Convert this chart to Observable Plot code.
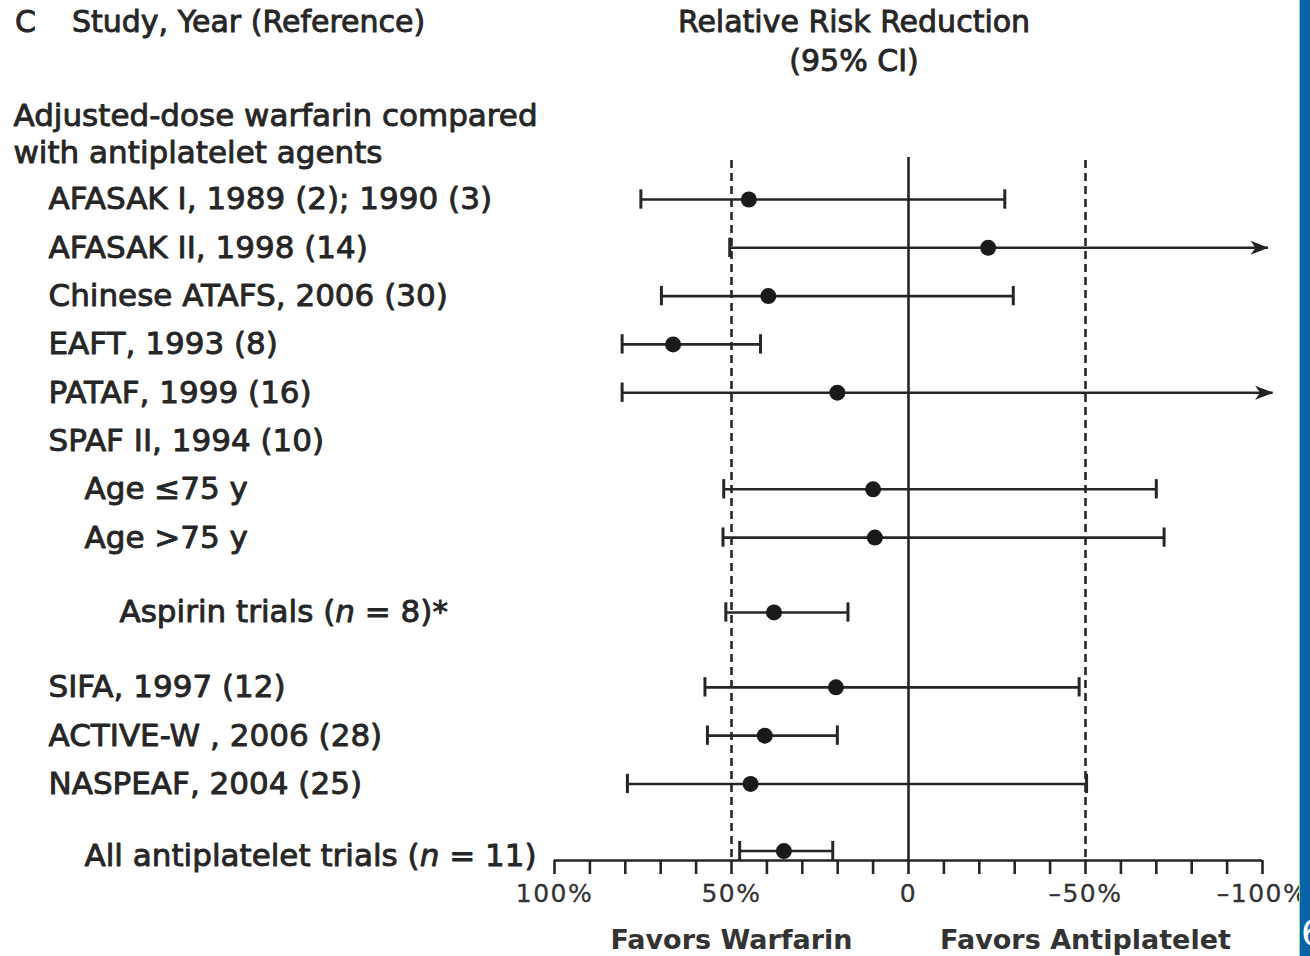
<!DOCTYPE html>
<html>
<head>
<meta charset="utf-8">
<script src="https://cdn.jsdelivr.net/npm/d3@7"></script>
<script src="https://cdn.jsdelivr.net/npm/@observablehq/plot@0.6"></script>
<style>
  html, body { margin: 0; padding: 0; background: #fff; }
  #page { position: relative; width: 1310px; height: 956px; overflow: hidden; background: #fff;
          font-family: "DejaVu Sans", sans-serif; color: #262626; }
  #header { position: relative; height: 90px; }
  #header div { position: absolute; font-size: 30px; line-height: 36px; white-space: nowrap; -webkit-text-stroke: 0.9px #262626; }
  #chart svg { display: block; }
  #chart g[font-size="25"] text { letter-spacing: 1.5px; }
  #stripe-g { position: absolute; left: 1299px; top: 0; width: 1px; height: 956px; background: #8fe08f; z-index: 5; }
  #stripe-b { position: absolute; left: 1300px; top: 0; width: 10px; height: 956px; background: #0a63a6; z-index: 5; overflow: hidden; }
  #stripe-b span { position: absolute; left: 1px; top: 912px; color: #fff; font-size: 36px; font-family: "DejaVu Sans", sans-serif; }
</style>
</head>
<body>
<div id="page">
  <div id="header">
    <div style="left:15px; top:4px;">C</div>
    <div style="left:72px; top:4px;">Study, Year (Reference)</div>
    <div style="left:654px; top:4px; width:400px; text-align:center;">Relative Risk Reduction</div>
    <div style="left:654px; top:43px; width:400px; text-align:center;">(95% CI)</div>
  </div>
  <div id="chart"></div>
  <div id="stripe-g"></div>
  <div id="stripe-b"><span>6</span></div>
</div>
<script>
// ---------------- data ----------------
const groupLabel = "Adjusted-dose warfarin compared\nwith antiplatelet agents";
const labels = [
  "AFASAK I, 1989 (2); 1990 (3)",
  "AFASAK II, 1998 (14)",
  "Chinese ATAFS, 2006 (30)",
  "EAFT, 1993 (8)",
  "PATAF, 1999 (16)",
  "SPAF II, 1994 (10)",
  "Age \u226475 y",
  "Age >75 y",
  "Aspirin trials (n = 8)*",
  "SIFA, 1997 (12)",
  "ACTIVE-W , 2006 (28)",
  "NASPEAF, 2004 (25)",
  "All antiplatelet trials (n = 11)"
];
const kinds = ["study","study","study","study","study","study","subgroup","subgroup","pooled","study","study","study","overall"];
// relative risk reduction (%) and 95% CI bounds
const rrr            = [45.1, -22.5, 39.6, 66.5, 20.1, null, 10.0,  9.5, 38.0,  20.5, 40.6,  44.6, 35.2];
const ciWarfarinEnd  = [75.6,  50.5, 69.8, 80.9, 80.9, null, 52.2, 52.4, 51.6,  57.5, 56.8,  79.4, 47.7];
const ciAntiplatEnd  = [-27.2, -101.7, -29.6, 41.8, -103.0, null, -70.0, -72.2, 17.1, -48.2, 20.1, -50.3, 21.4];
const beyondAxis     = [false, true, false, false, true, false, false, false, false, false, false, false, false];
const xTicks = d3.range(-100, 101, 10);
const labeledTicks = [100, 50, 0, -50, -100];
const labeledTickText = ["100%", "50%", "0", "\u201350%", "\u2013100%"];
const favorsText = ["Favors Warfarin", "Favors Antiplatelet"];
const favorsAt = [50, -50];
const dashedRefs = [50, -50];
const nullRef = [0];

// ---------------- layout (code, not data) ----------------
const W = 1310, H = 866, mLeft = 554, mRight = 48, axisPx = 770;
const rowH = 48.3, row0 = 109;
const yTop = -row0 / rowH, yBottom = (axisPx - row0) / rowH;
const indent = {group: 13, study: 48, subgroup: 84, pooled: 119, overall: 84};
const labelDy = {group: 0, study: 0, subgroup: 0, pooled: 0, overall: 5};
const ink = "#262626";
const textInk = "#262626";
const lw = 2.6;

const pos = [];
kinds.forEach((k, i) => {
  if (i === 0) { pos.push(0); return; }
  let step = 1;
  if (k === "pooled" || kinds[i - 1] === "pooled") step = 1.55;
  if (k === "overall") step = 1.39;
  pos.push(pos[i - 1] + step);
});

const rows = labels.map((label, i) => ({
  label, kind: kinds[i], pos: pos[i], rrr: rrr[i],
  lo: ciWarfarinEnd[i], hi: ciAntiplatEnd[i], open: beyondAxis[i]
}));
const withData = rows.filter(d => d.rrr != null);
const caps = [];
withData.forEach(d => {
  caps.push({v: d.lo, pos: d.pos});
  if (!d.open) caps.push({v: d.hi, pos: d.pos});
});
const capHalf = 0.2;
const lineTop = -0.87, dashTop = -0.81;

const arrowHead = {
  draw(ctx) {
    ctx.moveTo(0, 0);
    ctx.lineTo(-18, -7);
    ctx.lineTo(-13, 0);
    ctx.lineTo(-18, 7);
    ctx.closePath();
  }
};

const labelStyle = {fontSize: 31, fill: textInk, stroke: textInk, strokeWidth: 0.9, fontFamily: "DejaVu Sans"};
const labelMarks = Object.keys(indent).filter(k => k !== "group").map(k =>
  Plot.text(rows.filter(d => d.kind === k), {
    y: "pos", text: "label", frameAnchor: "left", textAnchor: "start",
    dx: indent[k] - mLeft, dy: labelDy[k], ...labelStyle
  })
);

const chart = Plot.plot({
  width: W, height: H,
  marginLeft: mLeft, marginRight: mRight, marginTop: 0, marginBottom: H - axisPx,
  x: {domain: [100, -100], axis: null},
  y: {domain: [yTop, yBottom], range: [0, axisPx], axis: null},
  style: {fontFamily: "DejaVu Sans", color: ink, background: "transparent", overflow: "visible"},
  marks: [
    // reference lines
    Plot.ruleX(nullRef, {y1: lineTop, y2: yBottom, stroke: ink, strokeWidth: lw}),
    Plot.ruleX(dashedRefs, {y1: dashTop, y2: yBottom, stroke: ink, strokeWidth: lw, strokeDasharray: "8,5"}),
    // axis
    Plot.ruleY([yBottom], {stroke: ink, strokeWidth: lw}),
    Plot.ruleX(xTicks, {y1: yBottom, y2: yBottom + 14 / rowH, stroke: ink, strokeWidth: lw}),
    Plot.text(labeledTicks, {x: d => d, y: yBottom, dy: 33, text: (d, i) => labeledTickText[i],
      fontSize: 25, fill: "#333", stroke: "#333", strokeWidth: 0.3, fontFamily: "DejaVu Sans"}),
    Plot.text(favorsAt, {x: d => d, y: yBottom, dy: 80, text: (d, i) => favorsText[i],
      fontSize: 27, fontWeight: "bold", fill: "#333", fontFamily: "DejaVu Sans"}),
    // confidence intervals
    Plot.ruleY(withData, {y: "pos", x1: "lo", x2: "hi", stroke: ink, strokeWidth: lw}),
    Plot.ruleX(caps, {x: "v", y1: d => d.pos - capHalf, y2: d => d.pos + capHalf, stroke: ink, strokeWidth: lw + 0.4}),
    Plot.dot(withData.filter(d => d.open), {x: "hi", y: "pos", symbol: arrowHead, fill: "#222", stroke: "none"}),
    Plot.dot(withData, {x: "rrr", y: "pos", r: 8, fill: "#1a1a1a", stroke: "none"}),
    // labels
    Plot.text([{label: groupLabel, pos: -1.375}], {
      y: "pos", text: "label", frameAnchor: "left", textAnchor: "start", lineAnchor: "middle",
      lineHeight: 1.19, dx: indent.group - mLeft, ...labelStyle
    }),
    ...labelMarks
  ]
});

// italicise the "n" in "(n = …)"
d3.select(chart).selectAll("text").each(function () {
  if (this.childElementCount > 0) return;
  const t = this.textContent;
  const i = t.indexOf("(n =");
  if (i < 0) return;
  const el = d3.select(this);
  el.text(null);
  el.append("tspan").text(t.slice(0, i + 1));
  el.append("tspan").attr("font-style", "italic").text("n");
  el.append("tspan").text(t.slice(i + 2));
});

document.getElementById("chart").appendChild(chart);
</script>
</body>
</html>
